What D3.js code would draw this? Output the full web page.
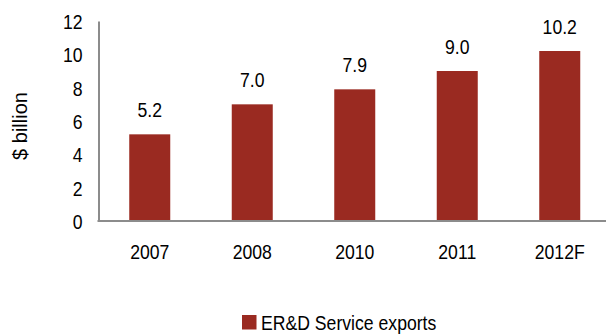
<!DOCTYPE html>
<html>
<head>
<meta charset="utf-8">
<script src="https://cdn.jsdelivr.net/npm/d3@7"></script>
<style>
  html, body { margin: 0; padding: 0; background: #fff; }
  svg text { font-family: "Liberation Sans", Arial, sans-serif; fill: #000; }
</style>
</head>
<body>
<svg id="chart" width="606" height="334"></svg>
<script>
// ER&D service exports, $ billion
const categories = ["2007", "2008", "2010", "2011", "2012F"];
const exportsValues = [5.2, 7.0, 7.9, 9.0, 10.2];
const yTicks = [0, 2, 4, 6, 8, 10, 12];
const seriesName = "ER&D Service exports";
const yTitle = "$ billion";

const W = 606, H = 334;
const left = 98.5, baseY = 221, topY = 21;
const barColor = "#9a2a21";
const axisColor = "#8c8c8c";
const fontSize = 21;
const narrow = 0.84;   // horizontal squeeze for a condensed look

const svg = d3.select("#chart");

const x = d3.scaleBand()
  .domain(categories)
  .range([left, left + 512.5])
  .paddingInner(0.6)
  .paddingOuter(0.3);

const y = d3.scaleLinear().domain([0, 12]).range([baseY, topY]);

const rows = categories.map((c, i) => ({ c, v: exportsValues[i] }));

// bars
svg.append("g").selectAll("rect")
  .data(rows)
  .join("rect")
  .attr("x", d => x(d.c))
  .attr("y", d => y(d.v))
  .attr("width", x.bandwidth())
  .attr("height", d => y(0) - y(d.v))
  .attr("fill", barColor);

// value labels
svg.append("g").selectAll("g")
  .data(rows)
  .join("g")
  .attr("transform", d => `translate(${x(d.c) + x.bandwidth() / 2},${y(d.v) - 17})`)
  .append("text")
  .attr("transform", `scale(${narrow},1)`)
  .attr("text-anchor", "middle")
  .style("font-size", fontSize + "px")
  .text(d => d.v.toFixed(1));

// y axis
const yAxis = svg.append("g")
  .attr("transform", `translate(${left},0)`)
  .call(d3.axisLeft(y).tickValues(yTicks).tickSize(0).tickPadding(16).tickFormat(d3.format("d")));
yAxis.select(".domain").attr("stroke", axisColor).attr("stroke-width", 2);
yAxis.selectAll("text")
  .style("font-size", fontSize + "px")
  .attr("x", -16 / narrow)
  .attr("dy", "0.36em")
  .attr("transform", `scale(${narrow},1)`);

// x axis
const xAxis = svg.append("g")
  .attr("transform", `translate(0,${baseY})`)
  .call(d3.axisBottom(x).tickSize(0).tickPadding(23));
xAxis.select(".domain").remove();
xAxis.append("line")
  .attr("x1", left - 1).attr("x2", W)
  .attr("y1", 0).attr("y2", 0)
  .attr("stroke", axisColor).attr("stroke-width", 2);
xAxis.selectAll("text")
  .style("font-size", fontSize + "px")
  .attr("dy", "0.71em")
  .attr("transform", `scale(${narrow},1)`);

// y axis title
svg.append("text")
  .attr("transform", `translate(27,126) rotate(-90)`)
  .attr("text-anchor", "middle")
  .style("font-size", "20px")
  .text(yTitle);

// legend
const legend = svg.append("g").attr("transform", "translate(242,315)");
legend.append("rect").attr("width", 14.5).attr("height", 14.5).attr("fill", barColor);
legend.append("text")
  .attr("transform", `translate(19,14.5) scale(${narrow},1)`)
  .style("font-size", fontSize + "px")
  .text(seriesName);
</script>
</body>
</html>
